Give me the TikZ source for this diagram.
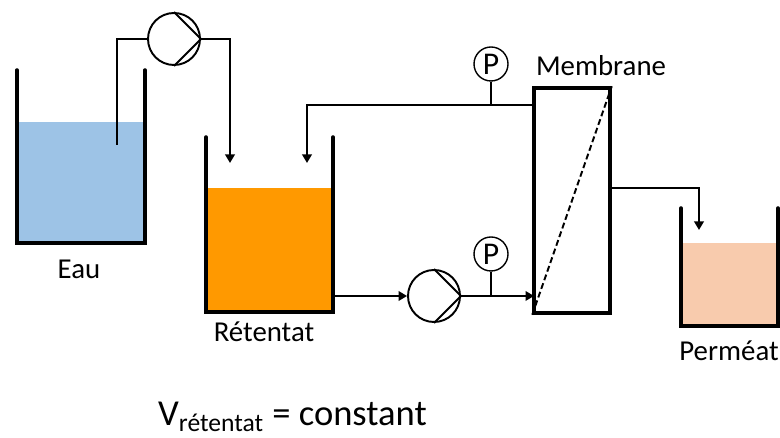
\documentclass[tikz,border=0pt]{standalone}
\usepackage{fontspec}
\setmainfont{Carlito}
\usepackage{xcolor}
\usetikzlibrary{arrows.meta, positioning}
\definecolor{eauColor}{HTML}{9DC3E6}
\definecolor{retentatColor}{HTML}{FF9900}
\definecolor{permeatColor}{HTML}{F8CBAD}
\tikzset{
	tank/.style={line width=2pt, line cap=round},
	pipe/.style={line width=1.1pt},
	flow/.style={pipe, -{Triangle[length=1.7mm, width=1.9mm]}},
	pump/.style={circle, draw, line width=1.1pt, minimum size=1.04cm, inner sep=0pt},
	gauge/.style={circle, draw, line width=.8pt, minimum size=.68cm, inner sep=0pt, font=\fontsize{18}{18}\selectfont},
	lbl/.style={font=\fontsize{16.4}{16.4}\selectfont, inner sep=0pt}
}

\begin{document}
\begin{tikzpicture}
	\useasboundingbox (0,0) rectangle (15.6,8.76);
	
	% Liquids
	\fill[eauColor] (.34,3.9) rectangle (2.9,6.32);
	\fill[retentatColor] (4.12,2.52) rectangle (6.66,5);
	\fill[permeatColor] (13.62,2.24) rectangle (15.56,3.9);
	
	% Tanks
	\draw[tank] (.34,7.36) -- (.34,3.9) -- (2.9,3.9) -- (2.9,7.36);
	\draw[tank] (4.12,6.02) -- (4.12,2.52) -- (6.66,2.52) -- (6.66,6.02);
	\draw[tank] (13.62,4.6) -- (13.62,2.24) -- (15.56,2.24) -- (15.56,4.6);
	
	% Labels for tanks
	\node[lbl] (eau) at (1.58,3.38) {Eau};
	\node[lbl] (retentat) at (5.28,2.12) {Rétentat};
	\node[lbl] (permeat) at (14.58,1.74) {Perméat};
	
	% Pumps and gauges
	\node[pump] (pumpEau) at (3.48,7.98) {};
	\draw[pipe] (pumpEau.north) -- (pumpEau.east) -- (pumpEau.south);
	\node[pump] (pumpRet) at (8.68,2.84) {};
	\draw[pipe] (pumpRet.north) -- (pumpRet.east) -- (pumpRet.south);
	\node[gauge] (gaugeTop) at (9.82,7.48) {P};
	\node[gauge] (gaugeBot) at (9.82,3.68) {P};
	
	% Membrane
	\node[draw, line width=2pt, minimum width=1.52cm, minimum height=4.5cm, inner sep=0pt] (membrane) at (11.44,4.75) {};
	\draw[pipe, dash pattern=on 3.4pt off 1.8pt] (membrane.south west) -- (membrane.north east);
	\node[lbl] (membraneLbl) at (12.02,7.44) {Membrane};
	
	% Free ends of the pipes
	\coordinate (eauIn) at (2.34,5.86);
	\coordinate (eauOut) at (4.6,5.5);
	\coordinate (retourIn) at (10.68,6.66);
	\coordinate (retourOut) at (6.14,5.5);
	\coordinate (retentatOut) at (6.66,2.84);
	\coordinate (membraneIn) at (10.68,2.84);
	\coordinate (permeatIn) at (12.2,5);
	\coordinate (permeatOut) at (13.98,4.16);
	
	% Draw the pipes
	\draw[pipe] (eauIn) |- (pumpEau.west);
	\draw[flow] (pumpEau.east) -| (eauOut);
	\draw[flow] (retourIn) -| (retourOut);
	\draw[flow] (retentatOut) -- (pumpRet.west);
	\draw[flow] (pumpRet.east) -- (membraneIn);
	\draw[flow] (permeatIn) -| (permeatOut);
	\draw[pipe] (gaugeTop.south) -- (gaugeTop.south |- retourIn);
	\draw[pipe] (gaugeBot.south) -- (gaugeBot.south |- membraneIn);
	
	\node[font=\fontsize{20.8}{20.8}\selectfont, inner sep=0pt] (volume) at (5.85,.42) {V\textsubscript{rétentat} = constant};
\end{tikzpicture}
\end{document}
